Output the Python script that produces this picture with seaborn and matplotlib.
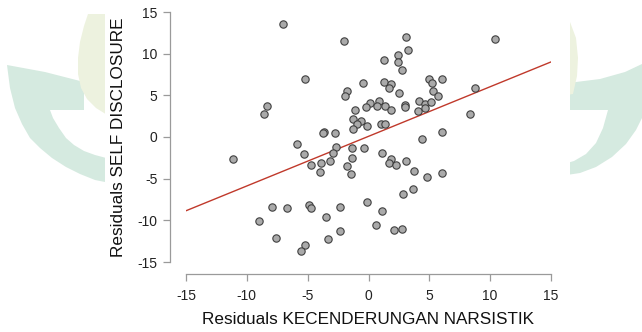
import numpy as np
import pandas as pd
import seaborn as sns
import matplotlib.pyplot as plt
from matplotlib.patches import Polygon, Rectangle

# Residuals of the two variables (partial regression plot)
resid_narsistik = [
    -7.0, -2.0, 3.07, 3.28, 10.37, 1.28, 2.40, 2.40, 2.77, -5.20,
    -0.44, 1.28, 1.89, 1.72, 2.47, 5.00, 5.24, 6.05, 5.30, 5.71,
    8.72, -1.76, -1.96, -8.31, -8.61, 0.10, 0.88, -0.17, 0.68, 1.35,
    1.82, -1.15, 2.97, 3.00, 4.19, 4.66, 5.10, 4.09, 4.63, 8.38,
    -1.25, -0.61, -0.98, 1.01, 1.32, -0.10, -1.28, -3.68, -3.72, -2.74,
    6.01, 4.36, -5.84, -2.64, -1.39, -0.37, -2.91, -5.27, 1.08, -11.11,
    -1.39, 1.89, -3.18, -3.89, 1.72, 2.30, 3.11, -4.70, -1.76, -3.99,
    -1.42, 3.72, 6.05, 4.83, 3.65, 2.84, -0.14, -4.90, -4.73, -7.97,
    -6.72, -2.36, 1.08, -8.99, -3.48, 0.64, -7.57, -3.31, -2.36, 2.06,
    2.74, -5.20, -5.51,
]
resid_self_disclosure = [
    13.56, 11.57, 12.05, 10.49, 11.73, 9.25, 9.89, 9.05, 8.06, 7.02,
    6.50, 6.62, 6.34, 5.90, 5.23, 6.94, 6.46, 6.94, 5.58, 4.87,
    5.90, 5.50, 4.91, 3.75, 2.75, 4.11, 4.35, 3.55, 3.75, 3.71,
    3.19, 3.19, 3.79, 3.59, 4.31, 3.91, 4.19, 3.07, 3.43, 2.75,
    2.11, 1.91, 1.60, 1.60, 1.60, 1.32, 0.92, 0.64, 0.48, 0.48,
    0.60, -0.24, -0.80, -1.20, -1.36, -1.36, -1.95, -2.07, -1.91, -2.67,
    -2.55, -2.67, -2.83, -3.15, -3.07, -3.39, -2.91, -3.39, -3.51, -4.19,
    -4.47, -4.07, -4.27, -4.83, -6.22, -6.78, -7.82, -8.10, -8.54, -8.42,
    -8.54, -8.38, -8.93, -10.05, -9.65, -10.57, -12.09, -12.25, -11.33, -11.13,
    -11.09, -12.96, -13.64,
]
axis_ticks = [-15, -10, -5, 0, 5, 10, 15]

df = pd.DataFrame({"x": resid_narsistik, "y": resid_self_disclosure})

sns.set_theme(style="white")
plt.rcParams["font.family"] = ["Liberation Sans", "DejaVu Sans"]
plt.rcParams["axes.unicode_minus"] = False

W, H = 642, 332
fig = plt.figure(figsize=(W / 100, H / 100), dpi=100)

# faint page watermark behind the chart (pixel coordinates, y downwards)
def px_poly(points, color):
    verts = [(x / W, 1 - y / H) for x, y in points]
    fig.patches.append(Polygon(verts, closed=True, transform=fig.transFigure,
                               facecolor=color, edgecolor="none", zorder=-3))

teal = "#d5eae0"
leaf = "#edf2df"
px_poly([(7, 65), (45, 72), (84, 82), (84, 110), (50, 110), (53, 118), (59, 128),
         (66, 138), (74, 145), (84, 151), (95, 155), (110, 159), (110, 183),
         (95, 180), (80, 174), (66, 167), (52, 158), (40, 148), (30, 138),
         (22, 124), (15, 108), (10, 88)], teal)
px_poly([(88, 14), (84, 26), (80, 42), (78, 58), (78, 74), (81, 88), (87, 99),
         (96, 108), (112, 118), (112, 14)], leaf)
px_poly([(560, 84), (600, 79), (625, 72), (642, 64), (642, 118), (636, 130),
         (626, 144), (612, 157), (596, 167), (580, 173), (560, 176), (560, 165),
         (574, 161), (586, 154), (596, 143), (603, 128), (608, 110), (560, 110)], teal)
px_poly([(560, 18), (570, 22), (576, 38), (578, 58), (577, 76), (573, 94), (560, 96)], leaf)
fig.patches.append(Rectangle((105 / W, 0), (570 - 105) / W, 1, transform=fig.transFigure,
                             facecolor="white", edgecolor="none", zorder=-2))

ax = fig.add_axes([186 / W, 1 - 262 / H, (551 - 186) / W, (262 - 12) / H])
ax.set_facecolor("none")
ax.set_xlim(-15, 15)
ax.set_ylim(-15, 15)

sns.regplot(data=df, x="x", y="y", ax=ax, scatter=False, ci=None, truncate=False,
            line_kws={"color": "#c0392b", "lw": 1.0, "zorder": 2})
sns.scatterplot(data=df, x="x", y="y", ax=ax, s=28, color="#aaaaaa",
                edgecolor="#404040", linewidth=0.8, zorder=3, clip_on=False)

ax.set_xlim(-15, 15)
ax.set_ylim(-15, 15)
ax.set_xticks(axis_ticks)
ax.set_yticks(axis_ticks)

for side in ("top", "right"):
    ax.spines[side].set_visible(False)
ax.spines["left"].set_position(("outward", 11.5))
ax.spines["bottom"].set_position(("outward", 8.6))
for side in ("left", "bottom"):
    ax.spines[side].set_color("#9a9a9a")
    ax.spines[side].set_linewidth(0.9)
    ax.spines[side].set_bounds(-15, 15)

ax.tick_params(axis="both", direction="out", length=5, width=0.9, color="#9a9a9a",
               labelsize=10, labelcolor="#222222", bottom=True, left=True)
ax.tick_params(axis="y", pad=4)
ax.tick_params(axis="x", pad=6)

ax.set_xlabel("Residuals KECENDERUNGAN NARSISTIK", fontsize=12.3, color="#111111", labelpad=6)
ax.set_ylabel("Residuals SELF DISCLOSURE", fontsize=12.3, color="#111111", labelpad=8)

fig.savefig("out.png", dpi=100)
